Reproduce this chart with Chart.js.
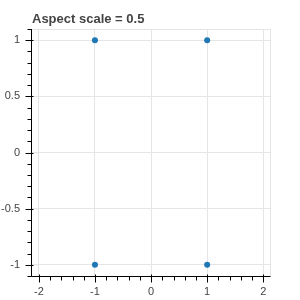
<!DOCTYPE html>
<html>
<head>
<meta charset="utf-8">
<script src="https://cdn.jsdelivr.net/npm/chart.js@4/dist/chart.umd.min.js"></script>
<style>
  html, body { margin: 0; padding: 0; background: #fff; }
  #wrap { width: 300px; height: 300px; }
</style>
</head>
<body>
<div id="wrap"><canvas id="chart" width="300" height="300"></canvas></div>
<script>
  // datos
  const xValues = [-1, 1, -1, 1];
  const yValues = [1, 1, -1, -1];
  const xMajor = [-2, -1, 0, 1, 2];
  const xMinor = [-1.8, -1.6, -1.4, -1.2, -0.8, -0.6, -0.4, -0.2, 0.2, 0.4, 0.6, 0.8, 1.2, 1.4, 1.6, 1.8];
  const yMajor = [-1, -0.5, 0, 0.5, 1];
  const yMinor = [-1.1, -0.9, -0.8, -0.7, -0.6, -0.4, -0.3, -0.2, -0.1, 0.1, 0.2, 0.3, 0.4, 0.6, 0.7, 0.8, 0.9, 1.1];
  const titleText = 'Aspect scale = 0.5';

  const points = xValues.map((x, i) => ({ x: x, y: yValues[i] }));

  // titulo a la izquierda del area
  const titlePlugin = {
    id: 'leftTitle',
    afterDraw: function(chart) {
      const ctx = chart.ctx;
      ctx.save();
      ctx.font = 'bold 13px "Liberation Sans", Arial, sans-serif';
      ctx.fillStyle = '#444444';
      ctx.textAlign = 'left';
      ctx.textBaseline = 'alphabetic';
      ctx.fillText(titleText, chart.chartArea.left + 1, 23);
      ctx.restore();
    }
  };

  // marco, ejes y marcas menores
  const axesPlugin = {
    id: 'bokehAxes',
    beforeDatasetsDraw: function(chart) {
      const { ctx, chartArea } = chart;
      ctx.save();
      ctx.strokeStyle = '#e5e5e5';
      ctx.lineWidth = 1;
      ctx.strokeRect(chartArea.left + 0.5, chartArea.top + 0.5,
        chartArea.right - chartArea.left, chartArea.bottom - chartArea.top);
      ctx.restore();
    },
    afterDraw: function(chart) {
      const { ctx, chartArea } = chart;
      const xs = chart.scales.x;
      const ys = chart.scales.y;
      const ax = Math.round(chartArea.left) + 0.5;
      const ay = Math.round(chartArea.bottom) + 0.5;
      ctx.save();
      ctx.strokeStyle = '#000';
      ctx.lineWidth = 1;
      ctx.beginPath();
      ctx.moveTo(ax, chartArea.top);
      ctx.lineTo(ax, ay);
      ctx.moveTo(ax, ay);
      ctx.lineTo(chartArea.right + 0.5, ay);

      xMajor.forEach(v => {
        const px = Math.round(xs.getPixelForValue(v)) + 0.5;
        ctx.moveTo(px, ay - 2);
        ctx.lineTo(px, ay + 6);
      });
      xMinor.forEach(v => {
        const px = Math.round(xs.getPixelForValue(v)) + 0.5;
        ctx.moveTo(px, ay);
        ctx.lineTo(px, ay + 4);
      });
      yMajor.forEach(v => {
        const py = Math.round(ys.getPixelForValue(v)) + 0.5;
        ctx.moveTo(ax - 6, py);
        ctx.lineTo(ax + 2, py);
      });
      yMinor.forEach(v => {
        const py = Math.round(ys.getPixelForValue(v)) + 0.5;
        ctx.moveTo(ax - 4, py);
        ctx.lineTo(ax, py);
      });
      ctx.stroke();
      ctx.restore();
    }
  };

  const tickFont = { family: '"Liberation Sans", Arial, sans-serif', size: 11 };

  new Chart(document.getElementById('chart'), {
    type: 'scatter',
    data: {
      datasets: [{
        data: points,
        backgroundColor: '#1f77b4',
        borderColor: '#1f77b4',
        pointRadius: 3,
        pointBorderWidth: 0
      }]
    },
    options: {
      responsive: false,
      animation: false,
      layout: {
        padding: { top: 29, right: 30, bottom: 0, left: 0 }
      },
      plugins: {
        legend: { display: false },
        tooltip: { enabled: false },
        title: { display: false }
      },
      scales: {
        x: {
          type: 'linear',
          min: -2.14,
          max: 2.12,
          afterBuildTicks: function(axis) {
            axis.ticks = xMajor.map(v => ({ value: v }));
          },
          afterFit: function(axis) {
            axis.height = 24;
          },
          grid: { color: '#e5e5e5', lineWidth: 1, drawTicks: false },
          border: { display: false },
          ticks: {
            padding: 9,
            color: '#444444',
            font: tickFont,
            maxRotation: 0,
            autoSkip: false,
            callback: function(value) { return String(value); }
          }
        },
        y: {
          type: 'linear',
          min: -1.1,
          max: 1.1,
          afterBuildTicks: function(axis) {
            axis.ticks = yMajor.map(v => ({ value: v }));
          },
          afterFit: function(axis) {
            axis.width = 31;
          },
          grid: { color: '#e5e5e5', lineWidth: 1, drawTicks: false },
          border: { display: false },
          ticks: {
            padding: 11,
            color: '#444444',
            font: tickFont,
            autoSkip: false,
            callback: function(value) { return String(value); }
          }
        }
      }
    },
    plugins: [titlePlugin, axesPlugin]
  });
</script>
</body>
</html>
